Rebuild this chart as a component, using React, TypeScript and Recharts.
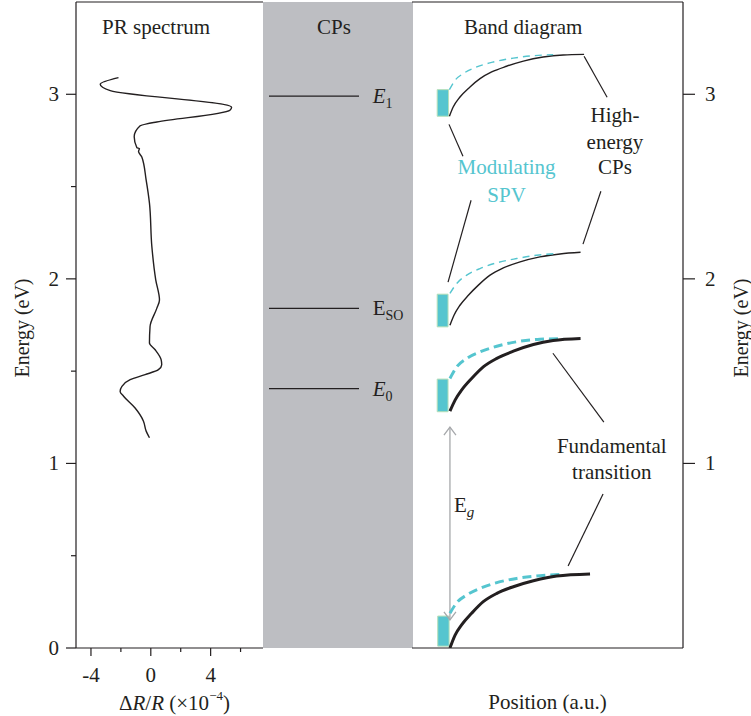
import React from "react";
import {
  ComposedChart,
  Line,
  XAxis,
  YAxis,
  ReferenceLine,
  ReferenceArea,
  ReferenceDot,
} from "recharts";

const FONT = "Liberation Serif, DejaVu Serif, serif";
const INK = "#231f20";
const CYAN = "#55c5cf";
const BAND_GREY = "#bdbec2";
const ARROW_GREY = "#a6a8ab";

// PR spectrum trace (dR/R in 1e-4, energy in eV), read top to bottom
const prDelta = [
  -2.16, -3.38, -2.71, 5.4, 5.29, 0.4, -0.27, -0.71, -1.11, -0.93, -0.76, -0.82,
  -0.6, -0.31, -0.09, 0.07, 0.33, 0.58, 0.4, -0.05, -0.09, 0.29, 0.69, 0.73,
  0.51, -0.38, -1.38, -1.93, -2.05, -1.82, -1.05, -0.49, -0.31, -0.09,
];
const prEnergy = [
  3.09, 3.054, 3.02, 2.93, 2.914, 2.85, 2.84, 2.829, 2.77, 2.71, 2.706, 2.69,
  2.66, 2.535, 2.41, 2.175, 1.995, 1.886, 1.84, 1.742, 1.652, 1.616, 1.562,
  1.535, 1.508, 1.481, 1.454, 1.418, 1.39, 1.364, 1.3, 1.229, 1.175, 1.139,
];

const drTicks = [-4, -2, 0, 2, 4, 6];
const energyTicksLeft = [0, 0.5, 1, 1.5, 2, 2.5, 3];
const energyTicksRight = [1, 2, 3];

// critical points
const cpNames = ["E1", "ESO", "E0"];
const cpEnergies = [2.99, 1.84, 1.405];

// band diagram curves (position a.u., energy eV)
const e1BandPos = [13.8, 15.2, 17.7, 21.4, 25.1, 29.4, 34.9, 41.1, 48.4, 55.8, 63.5];
const e1BandE = [2.881, 2.931, 2.985, 3.04, 3.085, 3.121, 3.152, 3.18, 3.202, 3.213, 3.216];
const e1SpvPos = [13.8, 15.9, 18.9, 23.9, 30.0, 37.4, 44.8, 52.1];
const e1SpvE = [3.025, 3.076, 3.112, 3.148, 3.175, 3.196, 3.209, 3.215];

const esoBandPos = [14.0, 15.5, 17.7, 20.8, 24.5, 28.8, 33.7, 39.9, 47.2, 54.6, 62.2];
const esoBandE = [1.749, 1.803, 1.857, 1.911, 1.966, 2.02, 2.059, 2.092, 2.119, 2.135, 2.144];
const esoSpvPos = [14.0, 16.5, 20.2, 25.1, 31.3, 38.6, 46.0, 53.4];
const esoSpvE = [1.921, 1.975, 2.02, 2.056, 2.087, 2.11, 2.128, 2.137];

const e0BandPos = [14.0, 15.9, 18.3, 22.0, 26.3, 31.3, 37.4, 44.8, 52.1, 62.2];
const e0BandE = [1.283, 1.343, 1.397, 1.46, 1.523, 1.569, 1.608, 1.644, 1.666, 1.677];
const e0SpvPos = [14.0, 16.5, 20.2, 25.1, 31.3, 38.6, 47.2, 55.8];
const e0SpvE = [1.46, 1.523, 1.569, 1.604, 1.635, 1.659, 1.673, 1.676];

const vbBandPos = [14.0, 15.9, 18.3, 22.0, 26.3, 31.3, 37.4, 44.8, 53.4, 65.7];
const vbBandE = [0.0, 0.07, 0.125, 0.188, 0.251, 0.296, 0.332, 0.364, 0.39, 0.401];
const vbSpvPos = [14.0, 16.5, 20.2, 25.1, 31.3, 38.6, 47.2, 55.8];
const vbSpvE = [0.188, 0.245, 0.287, 0.323, 0.354, 0.377, 0.392, 0.399];

// surface photovoltage boxes
const spvLeft = [9.3, 9.3, 9.3, 9.5];
const spvRight = [13.5, 13.3, 13.3, 13.7];
const spvLow = [2.881, 1.74, 1.28, 0.01];
const spvHigh = [3.025, 1.917, 1.457, 0.173];

// leader lines
const leadFromP = [13.65, 21.8, 63.5, 69.7, 52.0, 70.5];
const leadFromE = [2.837, 2.426, 3.206, 2.475, 1.597, 0.834];
const leadToP = [18.8, 13.3, 72.0, 63.1, 70.8, 57.6];
const leadToE = [2.664, 1.982, 2.984, 2.188, 1.224, 0.444];

// band gap arrow
const egPos = 14.0;
const egTop = 1.197;
const egBottom = 0.152;

const zip = (xs: number[], ys: number[], kx: string, ky: string) =>
  xs.map((v, i) => ({ [kx]: v, [ky]: ys[i] }));

const prData = zip(prDelta, prEnergy, "dr", "e");

const bandCurves = [
  { pos: e1BandPos, e: e1BandE, thick: false, spv: false },
  { pos: e1SpvPos, e: e1SpvE, thick: false, spv: true },
  { pos: esoBandPos, e: esoBandE, thick: false, spv: false },
  { pos: esoSpvPos, e: esoSpvE, thick: false, spv: true },
  { pos: e0SpvPos, e: e0SpvE, thick: true, spv: true },
  { pos: e0BandPos, e: e0BandE, thick: true, spv: false },
  { pos: vbSpvPos, e: vbSpvE, thick: true, spv: true },
  { pos: vbBandPos, e: vbBandE, thick: true, spv: false },
];

// horizontal extent of the CP level marks in the middle strip (0-100)
const CP_FROM = 4;
const CP_TO = 64;

const txt = { fill: INK, fontSize: 21, style: { fontFamily: FONT } };

// ticks drawn by hand so major and minor can differ in length
const LeftTick = (props: any) => {
  const { x, y, payload } = props;
  const major = Number.isInteger(payload.value);
  const len = major ? 10 : 5;
  return (
    <g>
      <line x1={x - len} y1={y} x2={x} y2={y} stroke={INK} strokeWidth={1.2} />
      {major && (
        <text x={x - 17} y={y} textAnchor="end" dominantBaseline="central" {...txt}>
          {payload.value}
        </text>
      )}
    </g>
  );
};

const BottomTick = (props: any) => {
  const { x, y, payload } = props;
  const major = payload.value % 4 === 0;
  const len = major ? 8 : 4;
  return (
    <g>
      <line x1={x} y1={y} x2={x} y2={y + len} stroke={INK} strokeWidth={1.2} />
      {major && (
        <text x={x} y={y + 27} textAnchor="middle" dominantBaseline="central" {...txt}>
          {payload.value}
        </text>
      )}
    </g>
  );
};

const TopTick = (props: any) => {
  const { x, y, payload } = props;
  const len = payload.value % 4 === 0 ? 6 : 4;
  return <line x1={x} y1={y} x2={x} y2={y + len} stroke={INK} strokeWidth={1.2} />;
};

const RightTick = (props: any) => {
  const { x, y, payload } = props;
  return (
    <g>
      <line x1={x} y1={y} x2={x + 12} y2={y} stroke={INK} strokeWidth={1.2} />
      <text x={x + 22} y={y} textAnchor="start" dominantBaseline="central" {...txt}>
        {payload.value}
      </text>
    </g>
  );
};

const energyLabel = (dx: number) => (props: any) => {
  const vb = props.viewBox || {};
  const x = vb.x + dx;
  const y = vb.y + vb.height / 2 + 3;
  return (
    <text
      x={x}
      y={y}
      transform={`rotate(-90, ${x}, ${y})`}
      textAnchor="middle"
      dominantBaseline="central"
      {...txt}
      fontSize={20}
    >
      Energy (eV)
    </text>
  );
};

const EgArrow = (props: any) => {
  const { x1, y1, x2, y2 } = props;
  const w = 6;
  const h = 8;
  return (
    <g stroke={ARROW_GREY} strokeWidth={1.3} fill="none">
      <line x1={x1} y1={y1} x2={x2} y2={y2} />
      <polyline points={`${x1 - w},${y1 + h} ${x1},${y1} ${x1 + w},${y1 + h}`} />
      <polyline points={`${x2 - w},${y2 - h} ${x2},${y2} ${x2 + w},${y2 - h}`} />
    </g>
  );
};

// a piece of text centred on a data point
const note = (key: string, x: number, y: number, text: string, color = INK) => (
  <ReferenceDot
    key={key}
    x={x}
    y={y}
    r={0}
    stroke="none"
    fill="none"
    label={(p: any) => {
      const vb = p.viewBox || {};
      return (
        <text
          x={vb.x + (vb.width || 0) / 2}
          y={vb.y + (vb.height || 0) / 2}
          textAnchor="middle"
          dominantBaseline="central"
          {...txt}
          fill={color}
        >
          {text}
        </text>
      );
    }}
  />
);

function PrPanel() {
  return (
    <ComposedChart width={263} height={716} margin={{ top: 1, right: 0, bottom: 0, left: 16 }}>
      <XAxis
        dataKey="dr"
        type="number"
        domain={[-5, 7.5]}
        ticks={drTicks}
        interval={0}
        allowDataOverflow
        height={68}
        tickSize={0}
        tickMargin={0}
        tick={BottomTick}
        axisLine={{ stroke: INK, strokeWidth: 1.2 }}
        label={(p: any) => {
          const vb = p.viewBox || {};
          return (
            <text
              x={vb.x + vb.width / 2 + 5}
              y={vb.y + 55}
              textAnchor="middle"
              dominantBaseline="central"
              {...txt}
            >
              Δ<tspan fontStyle="italic">R</tspan>/<tspan fontStyle="italic">R</tspan> (×10
              <tspan dy={-8} fontSize={13}>−4</tspan>
              <tspan dy={8}>)</tspan>
            </text>
          );
        }}
      />
      <XAxis
        xAxisId="top"
        orientation="top"
        type="number"
        domain={[-5, 7.5]}
        ticks={drTicks}
        interval={0}
        allowDataOverflow
        height={1}
        tickSize={0}
        tickMargin={0}
        tick={TopTick}
        axisLine={{ stroke: INK, strokeWidth: 1.2 }}
      />
      <YAxis
        type="number"
        domain={[0, 3.5]}
        ticks={energyTicksLeft}
        interval={0}
        allowDataOverflow
        width={60}
        tickSize={0}
        tickMargin={0}
        tick={LeftTick}
        axisLine={{ stroke: INK, strokeWidth: 1.2 }}
        label={energyLabel(6)}
      />
      {note("pr-title", 0.35, 3.365, "PR spectrum")}
      <Line
        data={prData}
        dataKey="e"
        type="monotoneY"
        stroke={INK}
        strokeWidth={1.4}
        dot={false}
        isAnimationActive={false}
      />
    </ComposedChart>
  );
}

function CpPanel() {
  return (
    <ComposedChart width={151} height={716} margin={{ top: 2, right: 0, bottom: 0, left: 0 }}>
      <XAxis
        dataKey="x"
        type="number"
        domain={[0, 100]}
        allowDataOverflow
        height={68}
        tick={false}
        tickLine={false}
        axisLine={false}
      />
      <YAxis
        type="number"
        domain={[0, 3.5]}
        allowDataOverflow
        width={1}
        tick={false}
        tickLine={false}
        axisLine={false}
      />
      <ReferenceArea x1={0} x2={100} y1={0} y2={3.5} fill={BAND_GREY} fillOpacity={1} stroke="none" />
      {cpEnergies.map((e, i) => (
        <Line
          key={`cp-${i}`}
          data={[
            { x: CP_FROM, e },
            { x: CP_TO, e },
          ]}
          dataKey="e"
          type="linear"
          stroke={INK}
          strokeWidth={1.3}
          dot={false}
          isAnimationActive={false}
        />
      ))}
      {note("cp-title", 47.3, 3.365, "CPs")}
      {cpEnergies.map((e, i) => (
        <ReferenceDot
          key={`cpl-${i}`}
          x={73.1}
          y={e}
          r={0}
          stroke="none"
          fill="none"
          label={(p: any) => {
            const vb = p.viewBox || {};
            const name = cpNames[i];
            return (
              <text x={vb.x} y={vb.y} textAnchor="start" dominantBaseline="central" {...txt}>
                <tspan fontStyle={name === "ESO" ? "normal" : "italic"}>E</tspan>
                <tspan dy={7} fontSize={14}>
                  {name.slice(1)}
                </tspan>
              </text>
            );
          }}
        />
      ))}
    </ComposedChart>
  );
}

function BandPanel() {
  return (
    <ComposedChart width={339} height={716} margin={{ top: 1, right: 0, bottom: 0, left: 0 }}>
      <XAxis
        dataKey="p"
        type="number"
        domain={[0, 100]}
        allowDataOverflow
        height={68}
        tick={false}
        tickLine={false}
        axisLine={{ stroke: INK, strokeWidth: 1.2 }}
        label={(p: any) => {
          const vb = p.viewBox || {};
          return (
            <text
              x={vb.x + vb.width / 2}
              y={vb.y + 54}
              textAnchor="middle"
              dominantBaseline="central"
              {...txt}
            >
              Position (a.u.)
            </text>
          );
        }}
      />
      <XAxis
        xAxisId="top"
        orientation="top"
        type="number"
        domain={[0, 100]}
        allowDataOverflow
        height={1}
        tick={false}
        tickLine={false}
        axisLine={{ stroke: INK, strokeWidth: 1.2 }}
      />
      <YAxis
        orientation="right"
        type="number"
        domain={[0, 3.5]}
        ticks={energyTicksRight}
        interval={0}
        allowDataOverflow
        width={68}
        tickSize={0}
        tickMargin={0}
        tick={RightTick}
        axisLine={{ stroke: INK, strokeWidth: 1.2 }}
        label={energyLabel(58)}
      />
      {spvLeft.map((x1, i) => (
        <ReferenceArea
          key={`spv-${i}`}
          x1={x1}
          x2={spvRight[i]}
          y1={spvLow[i]}
          y2={spvHigh[i]}
          fill={CYAN}
          fillOpacity={1}
          stroke="#b5dfb8"
          strokeWidth={1}
        />
      ))}
      {leadFromP.map((p, i) => (
        <ReferenceLine
          key={`lead-${i}`}
          segment={[
            { x: p, y: leadFromE[i] },
            { x: leadToP[i], y: leadToE[i] },
          ]}
          stroke={INK}
          strokeWidth={1.2}
        />
      ))}
      <ReferenceLine
        segment={[
          { x: egPos, y: egTop },
          { x: egPos, y: egBottom },
        ]}
        shape={EgArrow}
      />
      {bandCurves.map((c, i) => (
        <Line
          key={`band-${i}`}
          data={zip(c.pos, c.e, "p", "e")}
          dataKey="e"
          type="monotone"
          stroke={c.spv ? CYAN : INK}
          strokeWidth={c.thick ? 3 : 1.4}
          strokeDasharray={c.spv ? (c.thick ? "9 5" : "7 5") : undefined}
          dot={false}
          isAnimationActive={false}
        />
      ))}
      {note("band-title", 41.0, 3.365, "Band diagram")}
      {note("spv-1", 34.9, 2.606, "Modulating", CYAN)}
      {note("spv-2", 34.9, 2.454, "SPV", CYAN)}
      {note("hi-1", 74.9, 2.888, "High-")}
      {note("hi-2", 74.9, 2.742, "energy")}
      {note("hi-3", 74.9, 2.606, "CPs")}
      {note("fu-1", 73.7, 1.094, "Fundamental")}
      {note("fu-2", 73.7, 0.955, "transition")}
      <ReferenceDot
        x={15.5}
        y={0.775}
        r={0}
        stroke="none"
        fill="none"
        label={(p: any) => {
          const vb = p.viewBox || {};
          return (
            <text x={vb.x} y={vb.y} textAnchor="start" dominantBaseline="central" {...txt}>
              E
              <tspan dy={7} fontSize={15} fontStyle="italic">
                g
              </tspan>
            </text>
          );
        }}
      />
    </ComposedChart>
  );
}

export default function App() {
  return (
    <div
      style={{
        position: "absolute",
        left: 0,
        top: 0,
        width: 751,
        height: 716,
        background: "#fff",
        fontFamily: FONT,
      }}
    >
      <div style={{ position: "absolute", left: 0, top: 0 }}>
        <PrPanel />
      </div>
      <div style={{ position: "absolute", left: 262, top: 0 }}>
        <CpPanel />
      </div>
      <div style={{ position: "absolute", left: 412, top: 0 }}>
        <BandPanel />
      </div>
    </div>
  );
}
